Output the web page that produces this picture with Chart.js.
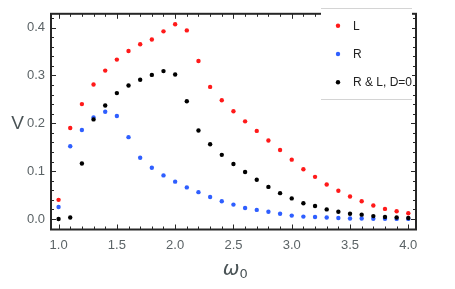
<!DOCTYPE html>
<html>
<head>
<meta charset="utf-8">
<script src="https://cdn.jsdelivr.net/npm/chart.js@4/dist/chart.umd.min.js"></script>
<style>
  html, body { margin: 0; padding: 0; background: #fff; }
  #wrap { width: 455px; height: 289px; }
</style>
</head>
<body>
<div id="wrap"><canvas id="chart" width="455" height="289"></canvas></div>
<script>
// --- Data ---
const omega = [1.0, 1.1, 1.2, 1.3, 1.4, 1.5, 1.6, 1.7, 1.8, 1.9, 2.0, 2.1, 2.2, 2.3, 2.4, 2.5,
  2.6, 2.7, 2.8, 2.9, 3.0, 3.1, 3.2, 3.3, 3.4, 3.5, 3.6, 3.7, 3.8, 3.9, 4.0];

const vL = [0.040, 0.190, 0.240, 0.281, 0.310, 0.333, 0.351, 0.365, 0.375, 0.392, 0.407, 0.394,
  0.330, 0.276, 0.248, 0.225, 0.204, 0.184, 0.164, 0.144, 0.124, 0.104, 0.088, 0.072, 0.059,
  0.047, 0.037, 0.028, 0.021, 0.016, 0.012];

const vR = [0.025, 0.152, 0.186, 0.212, 0.224, 0.215, 0.171, 0.128, 0.107, 0.091, 0.078, 0.066,
  0.056, 0.046, 0.037, 0.030, 0.023, 0.019, 0.015, 0.011, 0.007, 0.005, 0.004, 0.003, 0.002,
  0.001, 0.001, 0.0005, 0.0003, 0.0002, 0.0001];

const vRL = [0.000, 0.003, 0.116, 0.208, 0.237, 0.263, 0.279, 0.291, 0.301, 0.309, 0.302, 0.246,
  0.185, 0.156, 0.134, 0.115, 0.098, 0.082, 0.067, 0.054, 0.043, 0.033, 0.027, 0.020, 0.015,
  0.011, 0.009, 0.006, 0.004, 0.003, 0.002];

const xTicks = [1.0, 1.5, 2.0, 2.5, 3.0, 3.5, 4.0];
const yTicks = [0.0, 0.1, 0.2, 0.3, 0.4];
const seriesLabels = ['L', 'R', 'R & L, D=0'];

const FRAME = '#262626';
const TICK_TEXT = '#5b6366';

const pts = (ys) => omega.map((x, i) => ({ x, y: ys[i] }));

// Frame with inward ticks on all four sides, plus axis labels and legend
const framePlugin = {
  id: 'frame',
  afterDatasetsDraw(chart) {
    const { ctx, chartArea: a, scales } = chart;
    const xs = scales.x, ys = scales.y;
    ctx.save();
    ctx.strokeStyle = FRAME;

    // ticks (major every 0.5 / 0.1, minor every 0.1 / 0.02)
    ctx.lineWidth = 1;
    ctx.beginPath();
    for (let k = 10; k <= 40; k++) {
      const px = Math.round(xs.getPixelForValue(k / 10)) + 0.5;
      const len = k % 5 === 0 ? 5 : 3;
      ctx.moveTo(px, a.bottom); ctx.lineTo(px, a.bottom - len);
      ctx.moveTo(px, a.top); ctx.lineTo(px, a.top + len);
    }
    for (let k = -1; k <= 21; k++) {
      const py = Math.round(ys.getPixelForValue(k / 50)) + 0.5;
      if (py < a.top || py > a.bottom) continue;
      const len = k % 5 === 0 ? 5 : 3;
      ctx.moveTo(a.left, py); ctx.lineTo(a.left + len, py);
      ctx.moveTo(a.right, py); ctx.lineTo(a.right - len, py);
    }
    ctx.stroke();

    // frame
    ctx.lineWidth = 2;
    ctx.strokeRect(a.left, a.top, a.right - a.left, a.bottom - a.top);

    // legend
    const lx = 321, lr = 412, ltop = 8.5, lbot = 99.5;
    ctx.fillStyle = '#fff';
    ctx.fillRect(lx, ltop, lr - lx, lbot - ltop);
    ctx.strokeStyle = '#d4d4d4';
    ctx.lineWidth = 1;
    ctx.beginPath();
    ctx.moveTo(lx, ltop); ctx.lineTo(lr, ltop);
    ctx.moveTo(lx, lbot); ctx.lineTo(lr, lbot);
    ctx.stroke();
    const rows = [25.7, 54, 82.3];
    ctx.font = '12px "Liberation Sans", Arial, sans-serif';
    ctx.textBaseline = 'middle';
    ctx.textAlign = 'left';
    chart.data.datasets.forEach((ds, i) => {
      ctx.fillStyle = ds.backgroundColor;
      ctx.beginPath();
      ctx.arc(338, rows[i], 2.2, 0, Math.PI * 2);
      ctx.fill();
      ctx.fillStyle = '#222';
      ctx.fillText(ds.label, 353, rows[i] + 0.5);
    });

    // axis labels
    ctx.fillStyle = '#4a5356';
    ctx.font = '19px "Liberation Sans", Arial, sans-serif';
    ctx.textAlign = 'center';
    ctx.fillText('V', 17.5, (a.top + a.bottom) / 2 + 2.5);

    const cx = (a.left + a.right) / 2;
    ctx.font = 'italic 20px "DejaVu Sans", sans-serif';
    ctx.textAlign = 'right';
    ctx.fillText('ω', cx + 6, 270);
    ctx.font = '13px "DejaVu Sans", sans-serif';
    ctx.textAlign = 'left';
    ctx.fillText('0', cx + 6, 275);
    ctx.restore();
  }
};

new Chart(document.getElementById('chart'), {
  type: 'scatter',
  data: {
    datasets: [
      { label: seriesLabels[0], data: pts(vL), backgroundColor: '#ff1a1a', order: 3 },
      { label: seriesLabels[1], data: pts(vR), backgroundColor: '#2f5fff', order: 2 },
      { label: seriesLabels[2], data: pts(vRL), backgroundColor: '#000000', order: 1 }
    ]
  },
  options: {
    responsive: false,
    animation: false,
    layout: { padding: { left: 0, right: 39, top: 5, bottom: 0 } },
    elements: { point: { radius: 2.2, borderWidth: 0, hoverRadius: 2.2 } },
    plugins: { legend: { display: false }, tooltip: { enabled: false } },
    scales: {
      x: {
        type: 'linear',
        min: 0.935,
        max: 4.066,
        grid: { display: false, drawTicks: false },
        border: { display: false },
        afterBuildTicks: (s) => { s.ticks = xTicks.map((v) => ({ value: v })); },
        afterFit: (s) => { s.height = 59.5; },
        ticks: {
          color: TICK_TEXT,
          padding: 8,
          font: { family: '"Liberation Sans", Arial, sans-serif', size: 13 },
          callback: (v) => Number(v).toFixed(1)
        }
      },
      y: {
        type: 'linear',
        min: -0.022,
        max: 0.4287,
        grid: { display: false, drawTicks: false },
        border: { display: false },
        afterBuildTicks: (s) => { s.ticks = yTicks.map((v) => ({ value: v })); },
        afterFit: (s) => { s.width = 51; },
        ticks: {
          color: TICK_TEXT,
          padding: 6,
          font: { family: '"Liberation Sans", Arial, sans-serif', size: 13 },
          callback: (v) => Number(v).toFixed(1)
        }
      }
    }
  },
  plugins: [framePlugin]
});
</script>
</body>
</html>
